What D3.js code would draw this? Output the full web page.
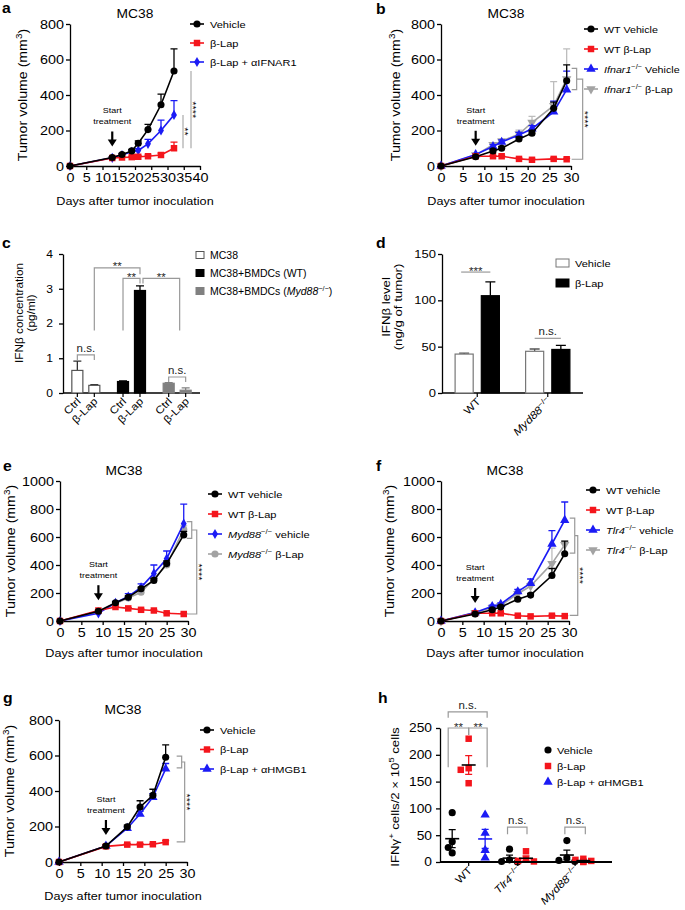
<!DOCTYPE html>
<html>
<head>
<meta charset="utf-8">
<script src="https://cdn.jsdelivr.net/npm/d3@7"></script>
<style>
  body { margin: 0; background: #fff; }
</style>
</head>
<body>
<script>
// ---------------- data ----------------
// a : MC38, vehicle / β-Lap / β-Lap + αIFNAR1
var aDays = [0, 13, 16, 19, 21, 24, 28, 32];
var aNames = ['Vehicle', 'β-Lap', 'β-Lap + αIFNAR1'];
var aVehicle = [0, 48, 65, 85, 128, 205, 345, 535];
var aVehicleSem = [0, 4, 6, 8, 14, 30, 60, 125];
var aLap = [0, 45, 48, 50, 52, 55, 62, 100];
var aLapSem = [0, 3, 4, 4, 5, 6, 10, 35];
var aIfnar = [0, 46, 62, 80, 88, 125, 200, 288];
var aIfnarSem = [0, 4, 6, 8, 10, 25, 58, 80];
var aXTicks = [0, 5, 10, 15, 20, 25, 30, 35, 40];
var aYTicks = [0, 200, 400, 600, 800];

// b : WT vs Ifnar1-/-
var bDays = [0, 8, 12, 14, 18, 21, 26, 29];
var bNames = ['WT Vehicle', 'WT β-Lap', '<i>Ifnar1</i><sup>−/−</sup> Vehicle', '<i>Ifnar1</i><sup>−/−</sup> β-Lap'];
var bWtVehicle = [0, 52, 85, 100, 152, 185, 325, 480];
var bWtVehicleSem = [0, 5, 8, 10, 12, 15, 35, 90];
var bWtLap = [0, 55, 55, 55, 40, 35, 40, 38];
var bWtLapSem = [0, 4, 4, 5, 4, 3, 5, 5];
var bKoVehicle = [0, 65, 110, 135, 175, 210, 305, 430];
var bKoVehicleSem = [0, 5, 10, 12, 15, 18, 60, 105];
var bKoLap = [0, 62, 120, 140, 180, 245, 340, 490];
var bKoLapSem = [0, 6, 10, 12, 22, 35, 135, 170];
var bXTicks = [0, 5, 10, 15, 20, 25, 30];
var bYTicks = [0, 200, 400, 600, 800];

// c : IFNβ in co-culture
var cGroups = ['MC38', 'MC38+BMDCs (WT)', 'MC38+BMDCs (<i>Myd88</i><sup>−/−</sup>)'];
var cConds = ['Ctrl', 'β-Lap'];
var cCtrl = [0.65, 0.33, 0.28];
var cCtrlSem = [0.27, 0.02, 0.02];
var cLap = [0.22, 2.95, 0.08];
var cLapSem = [0.02, 0.13, 0.07];
var cYTicks = [0, 1, 2, 3, 4];

// d : IFNβ in tumor
var dGroups = ['WT', '<i>Myd88</i><sup>−/−</sup>'];
var dConds = ['Vehicle', 'β-Lap'];
var dVehicle = [42, 45];
var dVehicleSem = [1, 2.5];
var dLap = [105, 47];
var dLapSem = [15, 4.5];
var dYTicks = [0, 50, 100, 150];

// e : WT vs Myd88-/-
var eDays = [0, 9, 13, 16, 19, 22, 25, 29];
var eNames = ['WT vehicle', 'WT β-Lap', '<i>Myd88</i><sup>−/−</sup> vehicle', '<i>Myd88</i><sup>−/−</sup> β-Lap'];
var eWtVehicle = [0, 70, 130, 170, 230, 290, 410, 615];
var eWtVehicleSem = [0, 5, 8, 10, 12, 15, 20, 25];
var eWtLap = [0, 75, 100, 90, 80, 75, 55, 50];
var eWtLapSem = [0, 5, 6, 5, 5, 5, 4, 4];
var eKoVehicle = [0, 55, 130, 175, 240, 340, 445, 695];
var eKoVehicleSem = [0, 5, 10, 20, 25, 60, 55, 140];
var eKoLap = [0, 65, 125, 165, 205, 300, 400, 655];
var eKoLapSem = [0, 5, 8, 10, 12, 15, 20, 25];
var eXTicks = [0, 5, 10, 15, 20, 25, 30];
var eYTicks = [0, 200, 400, 600, 800, 1000];

// f : WT vs Tlr4-/-
var fDays = [0, 8, 12, 14, 18, 21, 26, 29];
var fNames = ['WT vehicle', 'WT β-Lap', '<i>Tlr4</i><sup>−/−</sup> vehicle', '<i>Tlr4</i><sup>−/−</sup> β-Lap'];
var fWtVehicle = [0, 50, 80, 100, 155, 185, 325, 480];
var fWtVehicleSem = [0, 4, 6, 8, 10, 12, 50, 90];
var fWtLap = [0, 55, 55, 55, 38, 33, 38, 35];
var fWtLapSem = [0, 4, 4, 5, 4, 3, 4, 4];
var fKoVehicle = [0, 60, 105, 120, 210, 270, 550, 720];
var fKoVehicleSem = [0, 5, 8, 10, 15, 30, 95, 130];
var fKoLap = [0, 60, 95, 110, 195, 250, 410, 545];
var fKoLapSem = [0, 5, 8, 10, 15, 20, 110, 25];
var fXTicks = [0, 5, 10, 15, 20, 25, 30];
var fYTicks = [0, 200, 400, 600, 800, 1000];

// g : vehicle / β-Lap / β-Lap + αHMGB1
var gDays = [0, 11, 16, 19, 22, 25];
var gNames = ['Vehicle', 'β-Lap', 'β-Lap + αHMGB1'];
var gVehicle = [0, 90, 198, 310, 375, 590];
var gVehicleSem = [0, 6, 10, 35, 35, 70];
var gLap = [0, 88, 98, 98, 100, 112];
var gLapSem = [0, 5, 5, 5, 5, 8];
var gHmgb = [0, 90, 190, 270, 365, 525];
var gHmgbSem = [0, 5, 8, 15, 20, 30];
var gXTicks = [0, 5, 10, 15, 20, 25, 30];
var gYTicks = [0, 200, 400, 600, 800];

// h : IFNγ+ cells, one value per mouse
var hGroups = ['WT', '<i>Tlr4</i><sup>−/−</sup>', '<i>Myd88</i><sup>−/−</sup>'];
var hNames = ['Vehicle', 'β-Lap', 'β-Lap + αHMGB1'];
var hVehicle = [[92, 38, 27, 17], [24, 4, 1, 0], [40, 8, 3, 1]];
var hLap = [[230, 175, 172, 147], [20, 5, 2, 1], [6, 4, 2, 1, 0]];
var hHmgb = [[88, 54, 22, 8], [], []];
var hYTicks = [0, 50, 100, 150, 200, 250];

// ---------------- drawing ----------------
var FONT = '"Liberation Sans", Arial, Helvetica, sans-serif';
var K = 1.15;   // the lettering in the figure is set slightly wide
var RED = '#f4151c', BLUE = '#1b1bf5', GRAY = '#a3a3a3', GRAY_ERR = '#bdbdbd';
var INT = d3.format('d');

var svg = d3.select('body').append('svg')
  .attr('width', 685).attr('height', 910)
  .attr('font-family', FONT);

// tiny markup: <i>..</i> and <sup>..</sup>
function rich(t, str, size) {
  var re = /<(i|sup)>(.*?)<\/\1>|([^<]+)/g, m, lift = 0;
  while ((m = re.exec(str)) !== null) {
    var s = t.append('tspan');
    if (m[1] === 'sup') {
      s.text(m[2]).attr('font-size', size * 0.7).attr('dy', -size * 0.4);
      lift = size * 0.4;
    } else {
      s.text(m[1] ? m[2] : m[3]);
      if (m[1] === 'i') s.attr('font-style', 'italic');
      if (lift) { s.attr('dy', lift); lift = 0; }
    }
  }
  return t;
}

function label(g, x, y, str, size, o) {
  o = o || {};
  var t = g.append('text')
    .attr('transform', 'translate(' + x + ',' + y + ')' +
      (o.rotate ? ' rotate(' + o.rotate + ')' : '') +
      ' scale(' + (o.k || K) + ',1)')
    .attr('font-size', size)
    .attr('text-anchor', o.anchor || 'start')
    .attr('fill', o.fill || '#000');
  if (o.bold) t.attr('font-weight', 'bold');
  return rich(t, str, size);
}

function styleAxis(a, size) {
  a.attr('font-size', size).attr('font-family', FONT);
  a.select('.domain').attr('stroke', '#000').attr('stroke-width', 1.3);
  a.selectAll('.tick line').attr('stroke', '#000').attr('stroke-width', 1.3);
  a.selectAll('.tick text').attr('fill', '#000').each(function() {
    var t = d3.select(this);
    t.attr('x', (+t.attr('x') || 0) / K).attr('transform', 'scale(' + K + ',1)');
  });
  return a;
}

var SHAPES = { circle: d3.symbolCircle, square: d3.symbolSquare, diamond: d3.symbolDiamond,
               up: d3.symbolTriangle, down: d3.symbolTriangle };
var SIZES = { circle: 40, square: 42, diamond: 30, up: 38, down: 38 };

function marker(g, shape, color, x, y) {
  g.append('path')
    .attr('d', d3.symbol(SHAPES[shape], SIZES[shape])())
    .attr('transform', 'translate(' + x + ',' + y + ')' + (shape === 'down' ? ' rotate(180)' : ''))
    .attr('fill', color);
}

// horizontal significance bracket
function bracket(g, x1, x2, yl, yL, yR, text) {
  g.append('path')
    .attr('d', 'M' + x1 + ',' + yL + 'V' + yl + 'H' + x2 + 'V' + yR)
    .attr('fill', 'none').attr('stroke', '#999').attr('stroke-width', 1.2);
  var stars = text.indexOf('*') >= 0;
  label(g, (x1 + x2) / 2, stars ? yl + 2.5 : yl - 3, text, 10, { anchor: 'middle', fill: '#222' });
}

// ---------- tumour growth curves (a, b, e, f, g) ----------
function tumorChart(p) {
  var g = svg.append('g');
  var x = d3.scaleLinear().domain(d3.extent(p.xTicks)).range([p.box[0], p.box[1]]);
  var y = d3.scaleLinear().domain(d3.extent(p.yTicks)).range([p.box[3], p.box[2]]);

  styleAxis(g.append('g').attr('transform', 'translate(0,' + p.box[3] + ')')
    .call(d3.axisBottom(x).tickValues(p.xTicks).tickFormat(INT).tickSize(4).tickSizeOuter(0).tickPadding(3)), 12.5);
  styleAxis(g.append('g').attr('transform', 'translate(' + p.box[0] + ',0)')
    .call(d3.axisLeft(y).tickValues(p.yTicks).tickFormat(INT).tickSize(4).tickSizeOuter(0).tickPadding(2)), 12.5);

  var mid = (p.box[0] + p.box[1]) / 2;
  label(g, p.letter[0], p.letter[1], p.letter[2], 15, { bold: true, k: 1.05 });
  label(g, mid, p.box[2] - 6, 'MC38', 12, { anchor: 'middle' });
  label(g, mid, p.xTitleY, 'Days after tumor inoculation', 11, { anchor: 'middle' });
  label(g, p.yTitleX, (p.box[2] + p.box[3]) / 2, 'Tumor volume (mm<sup>3</sup>)', 12.3,
        { anchor: 'middle', rotate: -90 });

  var line = d3.line().x(function(d) { return x(d.day); }).y(function(d) { return y(d.v); });

  // first series ends up on top
  p.series.slice().reverse().forEach(function(s) {
    var pts = p.days.map(function(day, i) { return { day: day, v: s.values[i], e: s.sem[i] }; });
    var sg = g.append('g');
    sg.append('path').datum(pts).attr('d', line)
      .attr('fill', 'none').attr('stroke', s.color).attr('stroke-width', 1.6);
    pts.filter(function(d) { return d.e > 0; }).forEach(function(d) {
      var cx = x(d.day), top = y(d.v + d.e);
      sg.append('path')
        .attr('d', 'M' + cx + ',' + y(d.v) + 'V' + top + 'M' + (cx - 3.5) + ',' + top + 'H' + (cx + 3.5))
        .attr('fill', 'none').attr('stroke', s.err || s.color).attr('stroke-width', 1.3);
    });
    pts.forEach(function(d) { marker(sg, s.shape, s.color, x(d.day), y(d.v)); });
  });

  // legend
  p.series.forEach(function(s, i) {
    var lx = p.legend[0], ly = p.legend[1] + i * p.legend[2];
    g.append('line').attr('x1', lx - 7).attr('x2', lx + 7).attr('y1', ly).attr('y2', ly)
      .attr('stroke', s.color).attr('stroke-width', 1.6);
    marker(g, s.shape, s.color, lx, ly);
    label(g, lx + 13, ly + 3.5, s.name, p.legendSize || 9.6);
  });

  // start of treatment arrow
  var sx = x(p.start);
  var tip = y(p.series[0].values[p.days.indexOf(p.start)]) - 11, top = tip - 15;
  g.append('line').attr('x1', sx).attr('x2', sx).attr('y1', top).attr('y2', tip - 6)
    .attr('stroke', '#000').attr('stroke-width', 2.2);
  g.append('path').attr('d', 'M' + (sx - 4.5) + ',' + (tip - 7) + 'L' + (sx + 4.5) + ',' + (tip - 7) + 'L' + sx + ',' + tip + 'Z')
    .attr('fill', '#000');
  label(g, sx, top - 7, 'treatment', 7.8, { anchor: 'middle' });
  label(g, sx, top - 18, 'Start', 7.8, { anchor: 'middle' });

  // significance marks at the right end
  var lastX = x(p.days[p.days.length - 1]);
  (p.lines || []).forEach(function(l) {
    var lx = lastX + l.dx;
    g.append('line').attr('x1', lx).attr('x2', lx).attr('y1', y(l.top)).attr('y2', y(l.bottom))
      .attr('stroke', '#aaa').attr('stroke-width', 1.2);
    label(g, lx - 1, (y(l.top) + y(l.bottom)) / 2, l.text, 9.5, { anchor: 'middle', rotate: 90 });
  });
  if (p.bracket) {
    var b = p.bracket, xs = lastX + b.dx[0], xl = lastX + b.dx[1];
    var y1 = y(b.small[0]), y2 = y(b.small[1]), ym = (y1 + y2) / 2, y3 = y(b.big);
    g.append('path')
      .attr('d', 'M' + (xs - 5) + ',' + y1 + 'H' + xs + 'V' + y2 + 'H' + (xs - 5) +
                 'M' + xs + ',' + ym + 'H' + xl + 'V' + y3 + 'H' + (xs - 5))
      .attr('fill', 'none').attr('stroke', '#999').attr('stroke-width', 1.2);
    label(g, xl - 1, (ym + y3) / 2, b.text, 9.5, { anchor: 'middle', rotate: 90 });
  }
}

tumorChart({
  letter: [2, 13, 'a'], box: [70, 200, 24, 166], xTitleY: 205, yTitleX: 27,
  days: aDays, xTicks: aXTicks, yTicks: aYTicks, legend: [197, 24, 19], start: 13,
  series: [
    { name: aNames[0], values: aVehicle, sem: aVehicleSem, color: '#000', shape: 'circle' },
    { name: aNames[1], values: aLap, sem: aLapSem, color: RED, shape: 'square' },
    { name: aNames[2], values: aIfnar, sem: aIfnarSem, color: BLUE, shape: 'diamond' }
  ],
  lines: [{ dx: 9, top: 288, bottom: 100, text: '**' }, { dx: 17, top: 535, bottom: 100, text: '****' }]
});

tumorChart({
  letter: [376, 14, 'b'], box: [441, 571, 24, 166], xTitleY: 205, yTitleX: 400,
  days: bDays, xTicks: bXTicks, yTicks: bYTicks, legend: [591, 29, 20], legendSize: 9.3, start: 8,
  series: [
    { name: bNames[0], values: bWtVehicle, sem: bWtVehicleSem, color: '#000', shape: 'circle' },
    { name: bNames[1], values: bWtLap, sem: bWtLapSem, color: RED, shape: 'square' },
    { name: bNames[2], values: bKoVehicle, sem: bKoVehicleSem, color: BLUE, shape: 'up' },
    { name: bNames[3], values: bKoLap, sem: bKoLapSem, color: GRAY, err: GRAY_ERR, shape: 'down' }
  ],
  bracket: { dx: [10, 16], small: [550, 430], big: 38, text: '****' }
});

tumorChart({
  letter: [3, 471, 'e'], box: [60, 188, 481, 621], xTitleY: 657, yTitleX: 15,
  days: eDays, xTicks: eXTicks, yTicks: eYTicks, legend: [215, 494, 20], start: 9,
  series: [
    { name: eNames[0], values: eWtVehicle, sem: eWtVehicleSem, color: '#000', shape: 'circle' },
    { name: eNames[1], values: eWtLap, sem: eWtLapSem, color: RED, shape: 'square' },
    { name: eNames[2], values: eKoVehicle, sem: eKoVehicleSem, color: BLUE, shape: 'diamond' },
    { name: eNames[3], values: eKoLap, sem: eKoLapSem, color: GRAY, err: GRAY_ERR, shape: 'circle' }
  ],
  bracket: { dx: [8, 13], small: [710, 590], big: 50, text: '****' }
});

tumorChart({
  letter: [376, 471, 'f'], box: [441, 569, 481, 621], xTitleY: 657, yTitleX: 394,
  days: fDays, xTicks: fXTicks, yTicks: fYTicks, legend: [593, 490, 20], start: 8,
  series: [
    { name: fNames[0], values: fWtVehicle, sem: fWtVehicleSem, color: '#000', shape: 'circle' },
    { name: fNames[1], values: fWtLap, sem: fWtLapSem, color: RED, shape: 'square' },
    { name: fNames[2], values: fKoVehicle, sem: fKoVehicleSem, color: BLUE, shape: 'up' },
    { name: fNames[3], values: fKoLap, sem: fKoLapSem, color: GRAY, err: GRAY_ERR, shape: 'down' }
  ],
  bracket: { dx: [10, 13], small: [735, 485], big: 40, text: '****' }
});

tumorChart({
  letter: [3, 703, 'g'], box: [59, 187, 720, 862], xTitleY: 900, yTitleX: 14,
  days: gDays, xTicks: gXTicks, yTicks: gYTicks, legend: [207, 730, 19.5], start: 11,
  series: [
    { name: gNames[0], values: gVehicle, sem: gVehicleSem, color: '#000', shape: 'circle' },
    { name: gNames[1], values: gLap, sem: gLapSem, color: RED, shape: 'square' },
    { name: gNames[2], values: gHmgb, sem: gHmgbSem, color: BLUE, shape: 'up' }
  ],
  bracket: { dx: [16, 19], small: [597, 530], big: 113, text: '****' }
});

// ---------- c : grouped bars, fill by co-culture ----------
(function() {
  var g = svg.append('g');
  var box = [63, 200, 254, 393];
  var y = d3.scaleLinear().domain(d3.extent(cYTicks)).range([box[3], box[2]]);
  var gx = d3.scaleBand().domain(d3.range(cGroups.length)).range([box[0], box[1]]);
  var ix = d3.scaleBand().domain(cConds).range([0, gx.bandwidth()]).paddingInner(0.35).paddingOuter(0.52);
  var fills = ['#fff', '#000', '#808080'], strokes = ['#555', '#000', '#808080'], errs = ['#333', '#000', '#808080'];
  var vals = [cCtrl, cLap], sems = [cCtrlSem, cLapSem];
  function bx(gi, ci) { return gx(gi) + ix(cConds[ci]) + ix.bandwidth() / 2; }

  styleAxis(g.append('g').attr('transform', 'translate(' + box[0] + ',0)')
    .call(d3.axisLeft(y).tickValues(cYTicks).tickFormat(INT).tickSize(4).tickSizeOuter(0).tickPadding(6)), 10.5);
  g.append('line').attr('x1', box[0]).attr('x2', box[1]).attr('y1', box[3]).attr('y2', box[3])
    .attr('stroke', '#000').attr('stroke-width', 1.3);

  cGroups.forEach(function(grp, gi) {
    cConds.forEach(function(c, ci) {
      var v = vals[ci][gi], e = sems[ci][gi], cx = bx(gi, ci);
      g.append('path').attr('d', 'M' + cx + ',' + y(v) + 'V' + y(v + e) + 'M' + (cx - 4) + ',' + y(v + e) + 'H' + (cx + 4))
        .attr('stroke', errs[gi]).attr('stroke-width', 1.3);
      g.append('rect').attr('x', gx(gi) + ix(c)).attr('width', ix.bandwidth())
        .attr('y', y(v)).attr('height', y(0) - y(v))
        .attr('fill', fills[gi]).attr('stroke', strokes[gi]).attr('stroke-width', 1.2);
      g.append('line').attr('x1', cx).attr('x2', cx).attr('y1', box[3]).attr('y2', box[3] + 4)
        .attr('stroke', '#000').attr('stroke-width', 1.2);
      label(g, cx + 4, box[3] + 9, c, 10.5, { anchor: 'end', rotate: -45 });
    });
  });

  bracket(g, bx(0, 0), bx(0, 1), y(1.1), y(0.95), y(0.95), 'n.s.');
  bracket(g, bx(2, 0), bx(2, 1), y(0.46), y(0.32), y(0.32), 'n.s.');
  bracket(g, bx(0, 1), bx(1, 1), y(3.6), y(1.8), y(3.42), '**');
  bracket(g, bx(1, 0), bx(1, 1), y(3.3), y(1.8), y(3.15), '**');
  bracket(g, bx(1, 1) + 3, bx(2, 1) - 6, y(3.3), y(3.15), y(1.8), '**');

  label(g, 2, 248, 'c', 15, { bold: true, k: 1.05 });
  label(g, 23, 313, 'IFNβ concentration', 10.3, { anchor: 'middle', rotate: -90 });
  label(g, 35, 313, '(pg/ml)', 10.3, { anchor: 'middle', rotate: -90 });

  cGroups.forEach(function(grp, gi) {
    var ly = 255 + gi * 18;
    g.append('rect').attr('x', 196).attr('y', ly - 3.5).attr('width', 8).attr('height', 7)
      .attr('fill', fills[gi]).attr('stroke', strokes[gi]).attr('stroke-width', 1);
    label(g, 210, ly + 3.5, grp, 10, { k: 1.05 });
  });
})();

// ---------- d : grouped bars, fill by treatment ----------
(function() {
  var g = svg.append('g');
  var box = [442, 583, 254, 393];
  var y = d3.scaleLinear().domain(d3.extent(dYTicks)).range([box[3], box[2]]);
  var gx = d3.scaleBand().domain(d3.range(dGroups.length)).range([box[0], box[1]]);
  var ix = d3.scaleBand().domain(dConds).range([0, gx.bandwidth()]).paddingInner(0.31).paddingOuter(0.5);
  var fills = ['#fff', '#000'], strokes = ['#777', '#000'], errs = ['#555', '#000'];
  var vals = [dVehicle, dLap], sems = [dVehicleSem, dLapSem];
  function bx(gi, ci) { return gx(gi) + ix(dConds[ci]) + ix.bandwidth() / 2; }

  styleAxis(g.append('g').attr('transform', 'translate(' + box[0] + ',0)')
    .call(d3.axisLeft(y).tickValues(dYTicks).tickFormat(INT).tickSize(4).tickSizeOuter(0).tickPadding(2)), 11.3);
  g.append('line').attr('x1', box[0]).attr('x2', box[1]).attr('y1', box[3]).attr('y2', box[3])
    .attr('stroke', '#000').attr('stroke-width', 1.3);

  dGroups.forEach(function(grp, gi) {
    dConds.forEach(function(c, ci) {
      var v = vals[ci][gi], e = sems[ci][gi], cx = bx(gi, ci);
      g.append('path').attr('d', 'M' + cx + ',' + y(v) + 'V' + y(v + e) + 'M' + (cx - 5) + ',' + y(v + e) + 'H' + (cx + 5))
        .attr('stroke', errs[ci]).attr('stroke-width', 1.3);
      g.append('rect').attr('x', gx(gi) + ix(c)).attr('width', ix.bandwidth())
        .attr('y', y(v)).attr('height', y(0) - y(v))
        .attr('fill', fills[ci]).attr('stroke', strokes[ci]).attr('stroke-width', 1.2);
    });
    var gc = gx(gi) + gx.bandwidth() / 2;
    g.append('line').attr('x1', gc).attr('x2', gc).attr('y1', box[3]).attr('y2', box[3] + 4)
      .attr('stroke', '#000').attr('stroke-width', 1.2);
    label(g, gc + 4, box[3] + 9, grp, 10.5, { anchor: 'end', rotate: -45 });
  });

  bracket(g, bx(0, 0) - 3, bx(0, 1), y(130.5), y(130.5), y(130.5), '***');
  bracket(g, bx(1, 0), bx(1, 1), y(59), y(59), y(59), 'n.s.');

  label(g, 376, 248, 'd', 15, { bold: true, k: 1.05 });
  label(g, 390, 307, 'IFNβ level', 11.5, { anchor: 'middle', rotate: -90 });
  label(g, 402, 307, '(ng/g of tumor)', 11.5, { anchor: 'middle', rotate: -90 });

  dConds.forEach(function(c, ci) {
    var ly = 263 + ci * 20;
    g.append('rect').attr('x', 556).attr('y', ly - 4).attr('width', 13).attr('height', 8)
      .attr('fill', fills[ci]).attr('stroke', strokes[ci]).attr('stroke-width', 1);
    label(g, 575, ly + 3.5, c, 9.6);
  });
})();

// ---------- h : dot plot with mean ± SEM ----------
function swarm(values, y, cx, r) {
  var placed = [];
  values.map(function(v, i) { return { v: v, i: i }; })
    .sort(function(a, b) { return b.v - a.v; })
    .forEach(function(p) {
      var py = y(p.v), dx = 0;
      [0, -1, 1, -2, 2, -3, 3].some(function(k) {
        var c = k * r * 1.1;
        if (placed.every(function(q) { return Math.hypot(q.x - (cx + c), q.y - py) >= r * 1.8; })) { dx = c; return true; }
        return false;
      });
      placed.push({ x: cx + dx, y: py });
    });
  return placed;
}

(function() {
  var g = svg.append('g');
  var box = [440, 612, 728, 862];
  var y = d3.scaleLinear().domain(d3.extent(hYTicks)).range([box[3], box[2]]);
  var gx = d3.scaleBand().domain(d3.range(hGroups.length)).range([box[0], box[1]]);
  var sx = d3.scalePoint().domain(hNames).range([0, gx.bandwidth()]).padding(0.74);
  var sets = [hVehicle, hLap, hHmgb];
  var shapes = ['circle', 'square', 'up'], colors = ['#000', RED, BLUE], means = ['#000', '#000', BLUE];
  function hx(gi, si) { return gx(gi) + sx(hNames[si]); }

  styleAxis(g.append('g').attr('transform', 'translate(' + box[0] + ',0)')
    .call(d3.axisLeft(y).tickValues(hYTicks).tickFormat(INT).tickSize(4).tickSizeOuter(0).tickPadding(4)), 12);

  sets.forEach(function(set, si) {
    set.forEach(function(vals, gi) {
      if (!vals.length) return;
      var cx = hx(gi, si);
      swarm(vals, y, cx, 3.6).forEach(function(pt) { marker(g, shapes[si], colors[si], pt.x, pt.y); });
      var m = d3.mean(vals), se = d3.deviation(vals) / Math.sqrt(vals.length);
      g.append('path')
        .attr('d', 'M' + cx + ',' + y(m - se) + 'V' + y(m + se) +
                   'M' + (cx - 3.5) + ',' + y(m + se) + 'H' + (cx + 3.5) +
                   'M' + (cx - 3.5) + ',' + y(m - se) + 'H' + (cx + 3.5))
        .attr('fill', 'none').attr('stroke', colors[si]).attr('stroke-width', 1.3);
      g.append('line').attr('x1', cx - 7).attr('x2', cx + 7).attr('y1', y(m)).attr('y2', y(m))
        .attr('stroke', means[si]).attr('stroke-width', 1.6);
    });
  });

  // axis drawn on top of the zero-valued dots
  g.append('line').attr('x1', box[0]).attr('x2', box[1]).attr('y1', box[3]).attr('y2', box[3])
    .attr('stroke', '#000').attr('stroke-width', 2);
  hGroups.forEach(function(grp, gi) {
    var used = sets.map(function(s, si) { return s[gi].length ? hx(gi, si) : null; })
      .filter(function(v) { return v !== null; });
    var lx = d3.mean(used);
    g.append('line').attr('x1', lx).attr('x2', lx).attr('y1', box[3]).attr('y2', box[3] + 4)
      .attr('stroke', '#000').attr('stroke-width', 1.2);
    label(g, lx + 4, box[3] + 9, grp, 10.5, { anchor: 'end', rotate: -45 });
  });

  bracket(g, hx(0, 0) - 4, hx(0, 2) + 2, y(280), y(269), y(269), 'n.s.');
  bracket(g, hx(0, 0) - 4, hx(0, 1), y(250), y(177), y(237), '**');
  bracket(g, hx(0, 1), hx(0, 2) + 2, y(250), y(237), y(177), '**');
  bracket(g, hx(1, 0) - 2, hx(1, 1) + 1, y(65), y(52), y(52), 'n.s.');
  bracket(g, hx(2, 0) - 2, hx(2, 1) + 2, y(65), y(52), y(52), 'n.s.');

  label(g, 378, 703, 'h', 15, { bold: true, k: 1.05 });
  label(g, 399, 797, 'IFNγ<sup>+</sup> cells/2 × 10<sup>5</sup> cells', 11.5, { anchor: 'middle', rotate: -90 });

  hNames.forEach(function(n, si) {
    var ly = 750 + si * 16;
    marker(g, shapes[si], colors[si], 548, ly);
    label(g, 557, ly + 3.5, n, 9.6);
  });
})();
</script>
</body>
</html>
